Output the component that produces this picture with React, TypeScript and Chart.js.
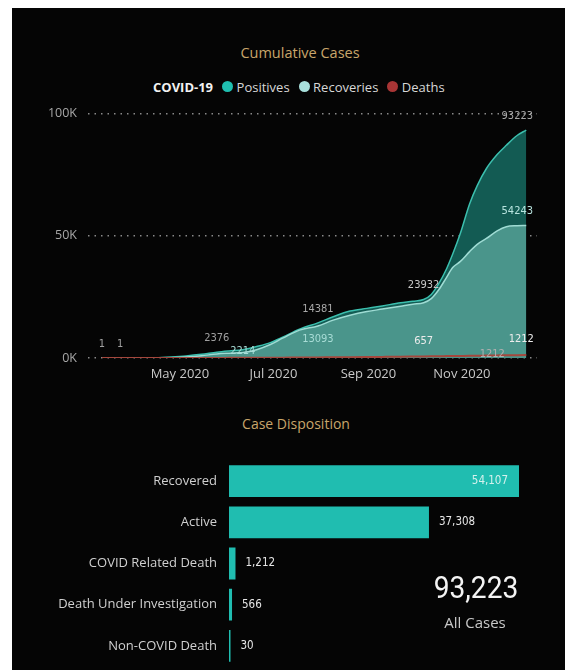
import React, { useEffect, useRef } from "react";
import { Chart, registerables } from "chart.js";

Chart.register(...registerables);

// ---- Cumulative cases (day-of-year 2020, Jan 1 = 0) ----
const days = [70, 82, 95, 105, 115, 125, 135, 145, 153, 162, 171, 180, 188, 199, 211, 221, 232, 243, 253, 265, 273, 280, 285, 290, 295, 299, 304, 310, 315, 321, 328, 334, 341, 347];
const positives = [1, 1, 25, 110, 420, 850, 1500, 2376, 2900, 3400, 4700, 6300, 8500, 11800, 14381, 16900, 19200, 20300, 21300, 22600, 23200, 23932, 26000, 30500, 36500, 42500, 51000, 63000, 70500, 77500, 83200, 87000, 91000, 93223];
const recoveries = [0, 0, 5, 30, 150, 450, 950, 1650, 1950, 2214, 3400, 5500, 8100, 11400, 13093, 15500, 17500, 19000, 20000, 21200, 22000, 22600, 24300, 28000, 33000, 37000, 39500, 43500, 46500, 48900, 52000, 53700, 54100, 54243];
const deaths = [0, 0, 0, 2, 8, 20, 30, 40, 55, 70, 90, 120, 150, 200, 250, 300, 350, 400, 450, 520, 590, 657, 700, 740, 780, 810, 850, 900, 940, 990, 1060, 1120, 1170, 1212];

const monthTickDays = [121, 182, 244, 305];
const monthTickLabels = ["May 2020", "Jul 2020", "Sep 2020", "Nov 2020"];
const yTickValues = [0, 50000, 100000];
const seriesNames = ["Positives", "Recoveries", "Deaths"];

// ---- Case disposition ----
const dispositionCategories = ["Recovered", "Active", "COVID Related Death", "Death Under Investigation", "Non-COVID Death"];
const dispositionValues = [54107, 37308, 1212, 566, 30];
const allCases = 93223;

// ---- styles ----
const COLORS = {
  posLine: "#3cbfae",
  posFill: "#135b53",
  recLine: "#9fdcd4",
  recFill: "#4a958b",
  deathLine: "#a5473d",
  legendPos: "#1fbfb0",
  legendRec: "#a8e0dc",
  legendDeath: "#a83535",
  bar: "#20bdb0",
  title: "#c9a66b",
};

const LABEL_FONT = '11px "DejaVu Sans Condensed", "Liberation Sans Narrow", sans-serif';

// label placement (dataset index, point index (-1 = last), offsets, colour)
const lineLabelSpecs = [
  { ds: 0, i: 0, dx: 0, dy: -14, color: "#a0a0a0" },
  { ds: 0, i: 1, dx: 0, dy: -14, color: "#a0a0a0" },
  { ds: 0, i: 7, dx: 0, dy: -14, color: "#a0a0a0" },
  { ds: 0, i: 14, dx: 0, dy: -14, color: "#a8a8a8" },
  { ds: 0, i: 21, dx: 0, dy: -14, color: "#c8c8c8" },
  { ds: 0, i: -1, dx: -9, dy: -14, color: "#a8a8a8" },
  { ds: 1, i: 9, dx: 0, dy: -1, color: "#a8dcd6" },
  { ds: 1, i: 14, dx: 0, dy: 13, color: "#a8dcd6" },
  { ds: 1, i: -1, dx: -9, dy: -14, color: "#b8e4df" },
  { ds: 2, i: 21, dx: 0, dy: -15, color: "#ececec" },
  { ds: 2, i: -1, dx: -34, dy: -1, color: "#b0b0b0" },
  { ds: 2, i: -1, dx: -5, dy: -16, color: "#ececec" },
];

const lineLabelsPlugin = {
  id: "lineLabels",
  afterDatasetsDraw(chart: any) {
    const ctx = chart.ctx;
    ctx.save();
    ctx.font = LABEL_FONT;
    ctx.textAlign = "center";
    ctx.textBaseline = "middle";
    for (const s of lineLabelSpecs) {
      const meta = chart.getDatasetMeta(s.ds);
      const data = chart.data.datasets[s.ds].data;
      const idx = s.i < 0 ? data.length + s.i : s.i;
      const el = meta.data[idx];
      if (!el) continue;
      ctx.fillStyle = s.color;
      ctx.fillText(String(data[idx].y), el.x + s.dx, el.y + s.dy);
    }
    ctx.restore();
  },
};

const barLabelsPlugin = {
  id: "barLabels",
  afterDatasetsDraw(chart: any) {
    const ctx = chart.ctx;
    const meta = chart.getDatasetMeta(0);
    const data = chart.data.datasets[0].data;
    ctx.save();
    ctx.font = '11.5px "DejaVu Sans Condensed", "Liberation Sans Narrow", sans-serif';
    ctx.textBaseline = "middle";
    meta.data.forEach((bar: any, i: number) => {
      const text = Number(data[i]).toLocaleString("en-US");
      const w = ctx.measureText(text).width;
      const barLen = bar.x - bar.base;
      if (barLen > w + 60 && i === 0) {
        ctx.textAlign = "right";
        ctx.fillStyle = "#d4f1ed";
        ctx.fillText(text, bar.x - 11, bar.y);
      } else {
        ctx.textAlign = "left";
        ctx.fillStyle = "#e6e6e6";
        ctx.fillText(text, bar.x + 10, bar.y);
      }
    });
    ctx.restore();
  },
};

function toPoints(vals: number[]) {
  return days.map((d, i) => ({ x: d, y: vals[i] }));
}

function LineChart() {
  const ref = useRef<HTMLCanvasElement | null>(null);
  useEffect(() => {
    if (!ref.current) return;
    const chart = new Chart(ref.current, {
      type: "line",
      data: {
        datasets: [
          {
            label: seriesNames[0],
            data: toPoints(positives),
            borderColor: COLORS.posLine,
            backgroundColor: COLORS.posFill,
            fill: "origin",
            borderWidth: 1.5,
            pointRadius: 0,
            cubicInterpolationMode: "monotone",
            order: 3,
          },
          {
            label: seriesNames[1],
            data: toPoints(recoveries),
            borderColor: COLORS.recLine,
            backgroundColor: COLORS.recFill,
            fill: "origin",
            borderWidth: 1.5,
            pointRadius: 0,
            cubicInterpolationMode: "monotone",
            order: 2,
          },
          {
            label: seriesNames[2],
            data: toPoints(deaths),
            borderColor: COLORS.deathLine,
            backgroundColor: COLORS.deathLine,
            fill: false,
            borderWidth: 2,
            pointRadius: 0,
            cubicInterpolationMode: "monotone",
            order: 1,
          },
        ],
      } as any,
      options: {
        animation: false,
        responsive: false,
        maintainAspectRatio: false,
        layout: { padding: { top: 13.5, right: 28, left: 0, bottom: 0 } },
        plugins: {
          legend: { display: false },
          tooltip: { enabled: false },
          title: { display: false },
        },
        scales: {
          x: {
            type: "linear",
            min: 61,
            max: 354,
            grid: { display: false, drawTicks: false },
            border: { display: false },
            afterBuildTicks: (s: any) => {
              s.ticks = monthTickDays.map((v) => ({ value: v }));
            },
            ticks: {
              callback: (v: any) => {
                const k = monthTickDays.indexOf(Number(v));
                return k >= 0 ? monthTickLabels[k] : "";
              },
              color: "#c8c8c8",
              font: { family: "Open Sans", size: 13 },
              padding: 8,
              maxRotation: 0,
              autoSkip: false,
            },
            afterFit: (s: any) => {
              s.height = 37;
              s.paddingLeft = 0;
              s.paddingRight = 0;
            },
          },
          y: {
            min: 0,
            max: 100000,
            afterBuildTicks: (s: any) => {
              s.ticks = yTickValues.map((v) => ({ value: v }));
            },
            ticks: {
              callback: (v: any) => Number(v) / 1000 + "K",
              color: "#a8a8a8",
              font: { family: "Open Sans", size: 12.5 },
              padding: 11,
            },
            grid: { color: "#8a8a8a", lineWidth: 1.5, drawTicks: false },
            border: { display: false, dash: [1.5, 5] },
            afterFit: (s: any) => {
              s.width = 76;
              s.paddingTop = 0;
              s.paddingBottom = 0;
            },
          },
        },
      } as any,
      plugins: [lineLabelsPlugin],
    });
    return () => chart.destroy();
  }, []);
  return (
    <canvas
      ref={ref}
      width={553}
      height={295}
      style={{ position: "absolute", left: 0, top: 92, width: 553, height: 295 }}
    />
  );
}

function BarChart() {
  const ref = useRef<HTMLCanvasElement | null>(null);
  useEffect(() => {
    if (!ref.current) return;
    const chart = new Chart(ref.current, {
      type: "bar",
      data: {
        labels: dispositionCategories,
        datasets: [
          {
            data: dispositionValues,
            backgroundColor: COLORS.bar,
            barPercentage: 0.77,
            categoryPercentage: 1,
            minBarLength: 1.5,
          },
        ],
      },
      options: {
        indexAxis: "y",
        animation: false,
        responsive: false,
        maintainAspectRatio: false,
        layout: { padding: { top: 20.4, bottom: 3.4, right: 46, left: 0 } },
        plugins: { legend: { display: false }, tooltip: { enabled: false } },
        scales: {
          x: { display: false, min: 0, max: Math.max(...dispositionValues) },
          y: {
            grid: { display: false, drawTicks: false },
            border: { display: false },
            ticks: {
              color: "#d0d0d0",
              font: { family: "Open Sans", size: 13 },
              padding: 12,
            },
            afterFit: (s: any) => {
              s.width = 217;
              s.paddingTop = 0;
              s.paddingBottom = 0;
            },
          },
        },
      } as any,
      plugins: [barLabelsPlugin],
    });
    return () => chart.destroy();
  }, []);
  return (
    <canvas
      ref={ref}
      width={553}
      height={230}
      style={{ position: "absolute", left: 0, top: 432, width: 553, height: 230 }}
    />
  );
}

const centered = (x: number, y: number): React.CSSProperties => ({
  position: "absolute",
  left: x,
  top: y,
  transform: "translate(-50%, -50%)",
  whiteSpace: "nowrap",
});

function Dot({ color }: { color: string }) {
  return (
    <span
      style={{
        display: "inline-block",
        width: 11,
        height: 11,
        borderRadius: "50%",
        background: color,
        marginLeft: 9,
        marginRight: 3.5,
      }}
    />
  );
}

export default function App() {
  const legendColors = [COLORS.legendPos, COLORS.legendRec, COLORS.legendDeath];
  return (
    <div
      style={{
        position: "absolute",
        left: 12,
        top: 8,
        width: 553,
        height: 662,
        background: "#050505",
        overflow: "hidden",
        fontFamily: "'Open Sans', sans-serif",
      }}
    >
      <div style={{ ...centered(288, 44), color: COLORS.title, fontSize: 14.5 }}>Cumulative Cases</div>
      <div
        style={{
          position: "absolute",
          left: 141,
          top: 78.5,
          transform: "translateY(-50%)",
          display: "flex",
          alignItems: "center",
          whiteSpace: "nowrap",
          fontSize: 13,
          color: "#d8d8d8",
        }}
      >
        <span style={{ fontWeight: 700, color: "#f2f2f2" }}>COVID-19</span>
        {seriesNames.map((n, i) => (
          <React.Fragment key={n}>
            <Dot color={legendColors[i]} />
            <span>{n}</span>
          </React.Fragment>
        ))}
      </div>
      <LineChart />
      <div style={{ ...centered(284, 415), color: COLORS.title, fontSize: 14 }}>Case Disposition</div>
      <BarChart />
      <div
        style={{
          ...centered(463.5, 578.7),
          transform: "translate(-50%, -50%) scaleX(0.88)",
          color: "#f4f4f4",
          fontSize: 32,
          fontWeight: 400,
          fontFamily: "Roboto, sans-serif",
        }}
      >
        {allCases.toLocaleString("en-US")}
      </div>
      <div style={{ ...centered(463, 613.7), color: "#c8c8c8", fontSize: 15 }}>All Cases</div>
    </div>
  );
}
